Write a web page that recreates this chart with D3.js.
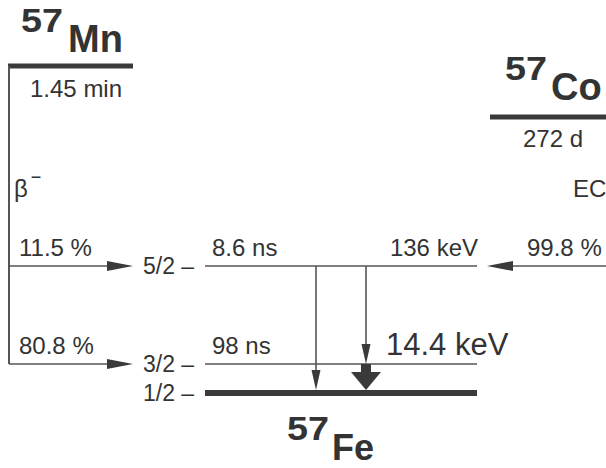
<!DOCTYPE html>
<html>
<head>
<meta charset="utf-8">
<script src="https://cdn.jsdelivr.net/npm/d3@7"></script>
<style>
  html, body { margin: 0; padding: 0; background: #fff; }
  svg text { font-family: "Liberation Sans", Arial, Helvetica, sans-serif; fill: #333; }
</style>
</head>
<body>
<svg id="chart" width="606" height="468"></svg>
<script>
// 57Fe levels fed by 57Mn beta decay and 57Co electron capture
const levelEnergies = [0, 14.4, 136];          // keV
const levelSpins    = ["1/2", "3/2", "5/2"];
const levelLifetimes = ["", "98 ns", "8.6 ns"];
const levelEnergyLabels = ["", "14.4 keV", "136 keV"];

const parentNames    = ["Mn", "Co"];
const parentMass     = ["57", "57"];
const parentHalfLife = ["1.45 min", "272 d"];
const parentQ        = [2695, 836];           // keV, drawn schematically
const parentMode     = ["β", "EC"];

const mnBranches = [11.5, 80.8];               // % into 5/2 and 3/2
const mnBranchLevels = [136, 14.4];
const coBranches = [99.8];                     // % into 5/2
const coBranchLevels = [136];

// gamma transitions: [from keV, to keV, heavy]
const gammaFrom  = [136, 136, 14.4];
const gammaTo    = [0, 14.4, 0];
const gammaHeavy = [false, false, true];

const svg = d3.select("#chart");
const ink = "#3a3a3a";
const fs = 24;

// schematic (piecewise) energy axis
const y = d3.scaleLinear()
  .domain([0, 14.4, 136, 836, 2695])
  .range([393, 364, 266, 117, 66]);

// horizontal layout anchors
const x = d3.scaleOrdinal()
  .domain(["mnL", "mnR", "levL", "levR", "coL", "coR", "gA", "gB"])
  .range([9, 133, 205, 477, 490, 606, 316, 366]);

const tri = (tx, ty, len, half, dir) => {
  // dir: +1 pointing right, -1 pointing left, "down"
  if (dir === "down") return `M${tx},${ty} L${tx - half},${ty - len} L${tx + half},${ty - len} Z`;
  return `M${tx},${ty} L${tx - dir * len},${ty - half} L${tx - dir * len},${ty + half} Z`;
};

// ----- daughter levels
levelEnergies.forEach((e, i) => {
  const yy = y(e);
  svg.append("line")
    .attr("x1", x("levL")).attr("x2", x("levR"))
    .attr("y1", yy).attr("y2", yy)
    .attr("stroke", e === 0 ? ink : "#555")
    .attr("stroke-width", e === 0 ? 6 : 1.6);
  svg.append("text")
    .attr("x", 143).attr("y", yy + 8)
    .attr("font-size", 23)
    .text(levelSpins[i] + " \u2013");
  if (levelLifetimes[i]) {
    svg.append("text")
      .attr("x", 212).attr("y", yy - 10)
      .attr("font-size", fs)
      .text(levelLifetimes[i]);
  }
});

// level energy labels
svg.append("text")
  .attr("x", 478).attr("y", y(136) - 10)
  .attr("text-anchor", "end").attr("font-size", fs)
  .text(levelEnergyLabels[2]);
svg.append("text")
  .attr("x", 386).attr("y", y(14.4) - 9)
  .attr("font-size", 31)
  .text(levelEnergyLabels[1]);

// ----- parents
const parentX = [[x("mnL") - 1, x("mnR")], [x("coL"), x("coR")]];
parentNames.forEach((n, i) => {
  const yy = y(parentQ[i]);
  svg.append("line")
    .attr("x1", parentX[i][0]).attr("x2", parentX[i][1])
    .attr("y1", yy).attr("y2", yy)
    .attr("stroke", ink).attr("stroke-width", 5);
});

function nuclide(x0, x1, base, mass, sym, symSize) {
  svg.append("text").attr("x", x0).attr("y", base - 20)
    .attr("font-weight", "bold").attr("fill", ink)
    .attr("font-size", 33)
    .attr("textLength", 42).attr("lengthAdjust", "spacingAndGlyphs")
    .text(mass);
  svg.append("text").attr("x", x1).attr("y", base)
    .attr("font-weight", "bold").attr("fill", ink)
    .attr("font-size", symSize)
    .text(sym);
}
nuclide(21, 68, 52, parentMass[0], parentNames[0], 38);
nuclide(505, 551, 100, parentMass[1], parentNames[1], 38);
nuclide(287, 332, 460, "57", "Fe", 36);

svg.append("text").attr("x", 30).attr("y", y(parentQ[0]) + 31)
  .attr("font-size", fs).text(parentHalfLife[0]);
svg.append("text").attr("x", 523).attr("y", y(parentQ[1]) + 30)
  .attr("font-size", fs).text(parentHalfLife[1]);

// decay mode labels
const beta = svg.append("text").attr("x", 14).attr("y", 197).attr("font-size", fs);
beta.append("tspan").text(parentMode[0]);
beta.append("tspan").attr("font-size", 18).attr("dy", -14).attr("dx", 3).text("\u2212");
svg.append("text").attr("x", 573).attr("y", 197).attr("font-size", fs).text(parentMode[1]);

// ----- 57Mn beta branches
const lowestMn = d3.min(mnBranchLevels);
svg.append("line")
  .attr("x1", x("mnL")).attr("x2", x("mnL"))
  .attr("y1", y(parentQ[0])).attr("y2", y(lowestMn))
  .attr("stroke", "#555").attr("stroke-width", 2);
mnBranches.forEach((p, i) => {
  const yy = y(mnBranchLevels[i]);
  svg.append("line")
    .attr("x1", x("mnL")).attr("x2", x("mnR") - 20)
    .attr("y1", yy).attr("y2", yy)
    .attr("stroke", "#555").attr("stroke-width", 1.6);
  svg.append("path").attr("d", tri(x("mnR"), yy, 26, 5, 1)).attr("fill", ink);
  svg.append("text").attr("x", 19).attr("y", yy - 10)
    .attr("font-size", fs).text(d3.format(".1f")(p) + " %");
});

// ----- 57Co EC branch
coBranches.forEach((p, i) => {
  const yy = y(coBranchLevels[i]);
  const tip = 487;
  svg.append("line")
    .attr("x1", x("coR")).attr("x2", tip + 20)
    .attr("y1", yy).attr("y2", yy)
    .attr("stroke", "#555").attr("stroke-width", 1.6);
  svg.append("path").attr("d", tri(tip, yy, 26, 5, -1)).attr("fill", ink);
  svg.append("text").attr("x", 527).attr("y", yy - 10)
    .attr("font-size", fs).text(d3.format(".1f")(p) + " %");
});

// ----- gamma transitions
const gammaX = [x("gA"), x("gB"), x("gB")];
gammaFrom.forEach((f, i) => {
  const gx = gammaX[i];
  const y0 = y(f), y1 = y(gammaTo[i]);
  if (!gammaHeavy[i]) {
    svg.append("line")
      .attr("x1", gx).attr("x2", gx).attr("y1", y0).attr("y2", y1 - 14)
      .attr("stroke", "#555").attr("stroke-width", 1.6);
    svg.append("path").attr("d", tri(gx, y1 - (gammaTo[i] === 0 ? 3 : 0), 20, 4.5, "down")).attr("fill", ink);
  } else {
    const tip = y1 - 3;
    const headLen = 18;
    svg.append("rect")
      .attr("x", gx - 5).attr("width", 10)
      .attr("y", y0).attr("height", tip - headLen - y0 + 1)
      .attr("fill", ink);
    svg.append("path").attr("d", tri(gx, tip, headLen, 15, "down")).attr("fill", ink);
  }
});
</script>
</body>
</html>
